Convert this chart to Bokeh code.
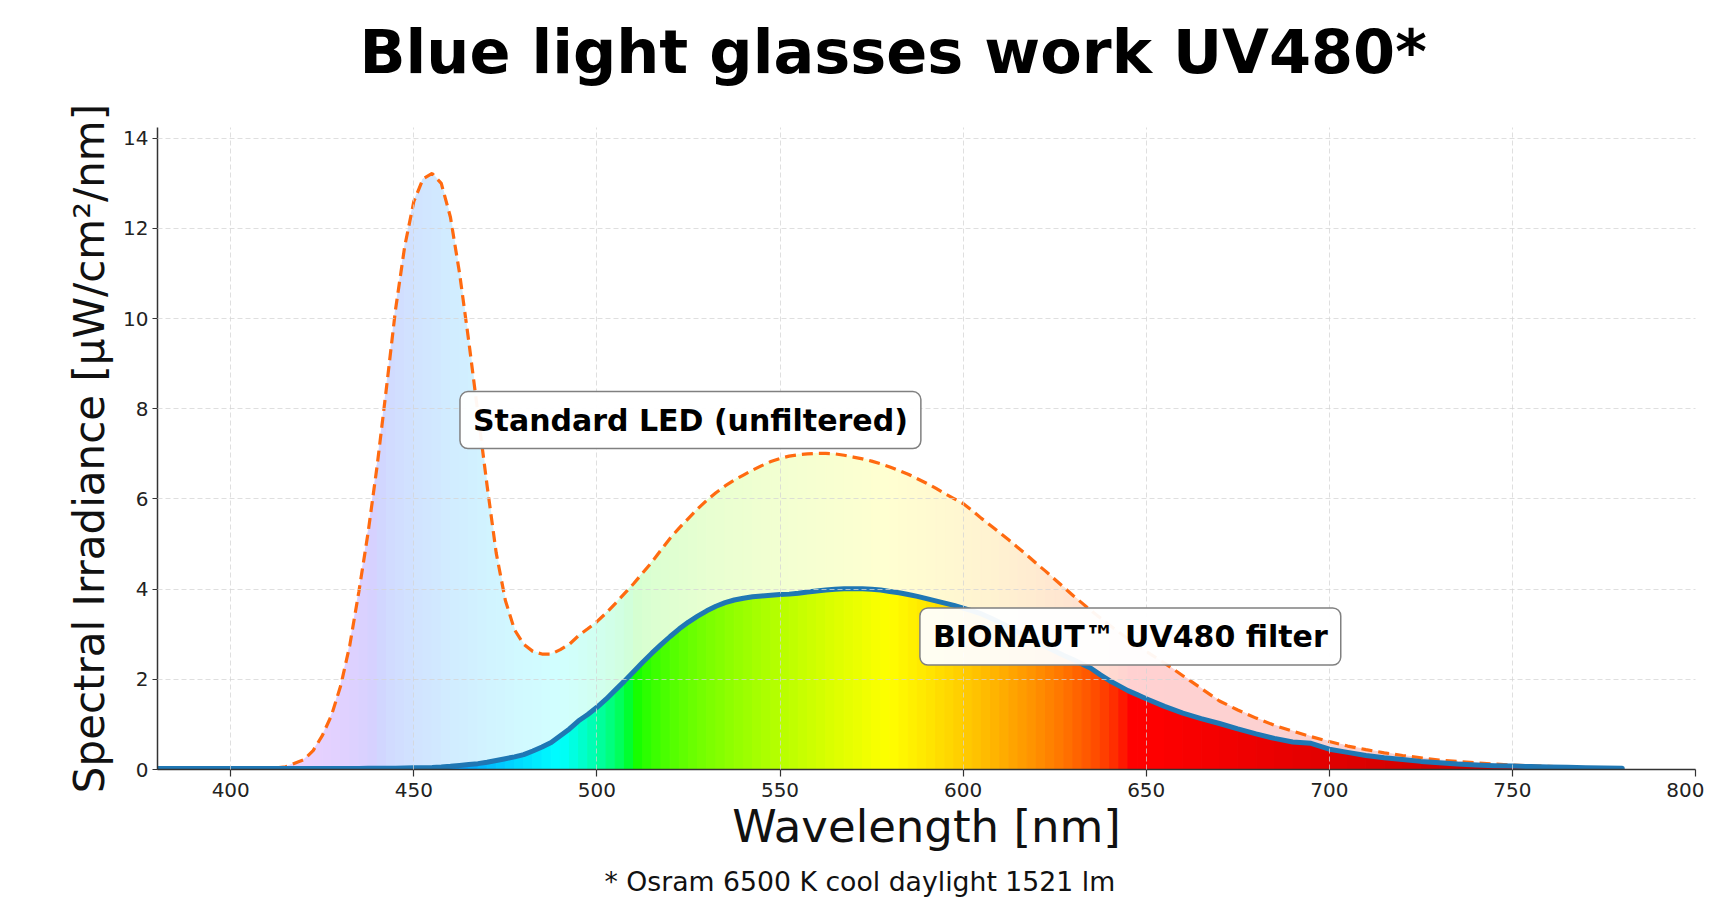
from bokeh.plotting import figure
from bokeh.models import Range1d, FixedTicker, Label, Title
from bokeh.embed import file_html
from bokeh.resources import INLINE

# ---------------- data ----------------
wavelength = [
    380, 385, 390, 395, 400, 405, 410, 415,
    420, 422.5, 425, 427.5, 430, 432.5, 435, 437.5, 440, 442.5, 445, 447.5,
    450, 452.5, 455, 457.5, 460, 462.5, 465, 467.5, 470, 472.5, 475, 477.5,
    480, 482.5, 485, 487.5,
    490, 492.5, 495, 497.5, 500, 502.5, 505, 507.5, 510, 512.5, 515, 517.5,
    520, 522.5, 525, 527.5, 530, 532.5, 535, 537.5, 540, 542.5, 545, 547.5,
    550, 552.5, 555, 557.5, 560, 562.5, 565, 567.5, 570, 572.5, 575, 577.5,
    580, 582.5, 585, 587.5, 590, 592.5, 595, 597.5, 600, 602.5, 605, 607.5,
    610, 612.5, 615, 617.5, 620, 622.5, 625, 627.5, 630, 632.5, 635, 637.5,
    640, 642.5, 645, 647.5, 650,
    655, 660, 665, 670, 675, 680, 685, 690, 695, 700, 705, 710, 715, 720,
    725, 730, 735, 740, 745, 750, 755, 760, 765, 770, 775, 780]

led_unfiltered = [
    0.0, 0.0, 0.0, 0.0, 0.0, 0.0, 0.01, 0.06,
    0.22, 0.42, 0.75, 1.2, 1.85, 2.75, 3.95, 5.25, 6.75, 8.45, 10.2, 11.6,
    12.6, 13.1, 13.22, 13.0, 12.25, 11.0, 9.5, 7.9, 6.3, 4.8, 3.75, 3.1,
    2.78, 2.62, 2.56, 2.56,
    2.66, 2.78, 2.97, 3.12, 3.28, 3.47, 3.68, 3.9, 4.12, 4.36, 4.6, 4.87,
    5.13, 5.36, 5.57, 5.78, 5.97, 6.14, 6.29, 6.42, 6.53, 6.64, 6.74, 6.83,
    6.9, 6.95, 6.98, 7.0, 7.01, 7.01, 7.0, 6.97, 6.93, 6.89, 6.84, 6.78,
    6.71, 6.63, 6.55, 6.45, 6.35, 6.24, 6.12, 6.01, 5.9, 5.74, 5.57, 5.41,
    5.25, 5.09, 4.92, 4.75, 4.57, 4.4, 4.22, 4.04, 3.86, 3.69, 3.52, 3.36,
    3.2, 3.05, 2.9, 2.76, 2.62,
    2.36, 2.08, 1.8, 1.52, 1.32, 1.14, 0.98, 0.85, 0.73, 0.62, 0.52, 0.44,
    0.37, 0.31, 0.26, 0.21, 0.18, 0.15, 0.12, 0.1, 0.08, 0.07, 0.05, 0.04,
    0.03, 0.03]

uv480_filtered = [
    0.02, 0.02, 0.02, 0.02, 0.02, 0.02, 0.02, 0.02,
    0.02, 0.02, 0.02, 0.02, 0.02, 0.02, 0.02, 0.025, 0.025, 0.03, 0.03, 0.035,
    0.04, 0.04, 0.045, 0.055, 0.07, 0.09, 0.11, 0.13, 0.16, 0.2, 0.24, 0.28,
    0.33, 0.41, 0.5, 0.6,
    0.75, 0.9, 1.08, 1.22, 1.38, 1.56, 1.76, 1.96, 2.17, 2.38, 2.58, 2.77,
    2.95, 3.12, 3.27, 3.4, 3.52, 3.62, 3.7, 3.76, 3.8, 3.83, 3.85, 3.865,
    3.88, 3.89, 3.91, 3.935, 3.96, 3.98, 4.0, 4.01, 4.01, 4.01, 4.0, 3.98,
    3.95, 3.92, 3.88, 3.84, 3.79, 3.74, 3.69, 3.64, 3.58, 3.52, 3.45, 3.36,
    3.26, 3.16, 3.05, 2.95, 2.84, 2.73, 2.63, 2.53, 2.44, 2.34, 2.24, 2.1,
    1.97, 1.86, 1.75, 1.66, 1.57,
    1.4, 1.25, 1.13, 1.02, 0.9, 0.79, 0.69, 0.61, 0.58, 0.45, 0.38, 0.31,
    0.26, 0.22, 0.18, 0.15, 0.12, 0.1, 0.085, 0.075, 0.065, 0.055, 0.05,
    0.04, 0.035, 0.03]

assert len(wavelength) == len(led_unfiltered) == len(uv480_filtered)

x_ticks = [400, 450, 500, 550, 600, 650, 700, 750, 800]
y_ticks = [0, 2, 4, 6, 8, 10, 12, 14]

title_text = "Blue light glasses work UV480*"
x_label = "Wavelength [nm]"
y_label = "Spectral Irradiance [µW/cm²/nm]"
footnote = "* Osram 6500 K cool daylight 1521 lm"
label_led = "Standard LED (unfiltered)"
label_filter = "BIONAUT™ UV480 filter"

FONT = "DejaVu Sans"


# ---------------- colour styling: wavelength -> visible colour ----------------
def spectral_rgb(w, gamma=0.6):
    if w < 440:
        r, g, b = (440 - w) / 60.0, 0.0, 1.0
    elif w < 490:
        r, g, b = 0.0, (w - 440) / 50.0, 1.0
    elif w < 510:
        r, g, b = 0.0, 1.0, (510 - w) / 20.0
    elif w < 580:
        r, g, b = (w - 510) / 70.0, 1.0, 0.0
    elif w < 645:
        r, g, b = 1.0, (645 - w) / 65.0, 0.0
    else:
        r, g, b = 1.0, 0.0, 0.0
    if w < 420:
        k = 0.3 + 0.7 * (w - 380) / 40.0
    elif w <= 650:
        k = 1.0
    else:
        k = 1.0 - 0.3 * (w - 650) / 130.0
    return tuple(int(round(255 * k * (max(c, 0.0) ** gamma))) for c in (r, g, b))


def hexcol(rgb):
    return "#%02x%02x%02x" % rgb


def pastel(rgb, a=0.18):
    return tuple(int(round(255 - a * (255 - c))) for c in rgb)


# ---------------- figure ----------------
p = figure(width=1704, height=898,
           x_range=Range1d(380, 800), y_range=Range1d(0, 14.24),
           output_backend="svg", toolbar_location=None, title_location=None,
           min_border_left=157, min_border_right=9,
           min_border_top=127, min_border_bottom=129)
p.background_fill_color = "white"
p.border_fill_color = "white"
p.outline_line_color = None

# gradient fills, one slice per data interval
n = len(wavelength)
xs = [[wavelength[i], wavelength[i + 1], wavelength[i + 1], wavelength[i]] for i in range(n - 1)]
mid = [(wavelength[i] + wavelength[i + 1]) / 2.0 for i in range(n - 1)]
ys_led = [[0, 0, led_unfiltered[i + 1], led_unfiltered[i]] for i in range(n - 1)]
ys_flt = [[0, 0, uv480_filtered[i + 1], uv480_filtered[i]] for i in range(n - 1)]
led_cols = [hexcol(pastel(spectral_rgb(m))) for m in mid]
flt_cols = [hexcol(spectral_rgb(m)) for m in mid]

p.patches(xs, ys_led, fill_color=led_cols, line_color=led_cols, line_width=1)
p.patches(xs, ys_flt, fill_color=flt_cols, line_color=flt_cols, line_width=1)

p.line(wavelength, led_unfiltered, line_color="#ff6a10", line_width=3.2,
       line_dash="11 6")
p.line(wavelength, uv480_filtered, line_color="#1f77b4", line_width=5,
       line_join="round", line_cap="round")

# axes
p.xaxis.ticker = FixedTicker(ticks=x_ticks)
p.yaxis.ticker = FixedTicker(ticks=y_ticks)
for ax in (p.xaxis[0], p.yaxis[0]):
    ax.axis_line_color = "#333333"
    ax.axis_line_width = 1.5
    ax.major_tick_line_color = "#333333"
    ax.major_tick_line_width = 1.2
    ax.major_tick_in = 0
    ax.minor_tick_line_color = None
    ax.major_label_text_font = FONT
    ax.major_label_text_font_size = "20px"
    ax.major_label_text_color = "#222222"
    ax.axis_label_text_font = FONT
    ax.axis_label_text_font_style = "normal"
    ax.axis_label_text_color = "#111111"

p.xaxis.major_tick_out = 7
p.xaxis.major_label_standoff = 6
p.yaxis.major_tick_out = 5
p.yaxis.major_label_standoff = 4

p.xaxis.axis_label = x_label
p.xaxis.axis_label_text_font_size = "45px"
p.xaxis.axis_label_standoff = 0
p.yaxis.axis_label = y_label
p.yaxis.axis_label_text_font_size = "42px"
p.yaxis.axis_label_standoff = 6

# grid (drawn above the fills, like the reference)
p.xgrid.ticker = FixedTicker(ticks=x_ticks)
p.ygrid.ticker = FixedTicker(ticks=y_ticks[1:])
for g in (p.xgrid[0], p.ygrid[0]):
    g.grid_line_color = "#d4d4d4"
    g.grid_line_alpha = 0.75
    g.grid_line_dash = "5 3"
    g.grid_line_width = 1
    g.level = "guide"

# title: a thin spacer next to the frame, then the title text above it
p.add_layout(Title(text=" ", text_font_size="2px", standoff=37), "above")
p.add_layout(Title(text=title_text, align="left", offset=202, text_font=FONT,
                   text_font_size="60.5px", text_font_style="bold",
                   text_color="#000000", standoff=0), "above")

# footnote below the axis (thin spacer first)
p.add_layout(Title(text=" ", text_font_size="2px", standoff=4), "below")
p.add_layout(Title(text=footnote, align="left", text_font=FONT,
                   text_font_size="26.7px", text_font_style="normal",
                   text_color="#111111", offset=447, standoff=0), "below")

# annotation boxes
for lx, ly, txt in ((462.6, 7.75, label_led), (588.2, 2.95, label_filter)):
    p.add_layout(Label(x=lx, y=ly, text=txt, text_font=FONT,
                       text_font_size="30px", text_font_style="bold",
                       text_color="#000000", text_align="left",
                       text_baseline="middle",
                       background_fill_color="white", background_fill_alpha=0.95,
                       border_line_color="#808080", border_line_width=1.5,
                       padding=(13, 11), border_radius=8))

open("out.html", "w").write(file_html(p, INLINE))
